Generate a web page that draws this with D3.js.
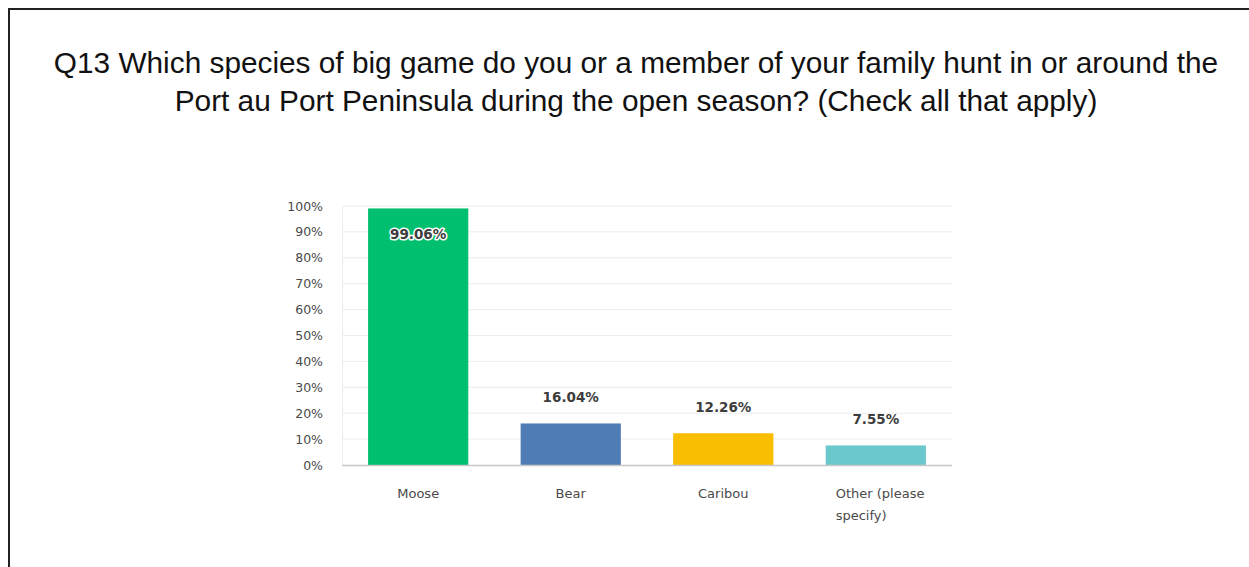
<!DOCTYPE html>
<html>
<head>
<meta charset="utf-8">
<script src="https://cdn.jsdelivr.net/npm/d3@7"></script>
<style>
  html, body { margin: 0; padding: 0; background: #fff; }
  svg { display: block; }
</style>
</head>
<body>
<svg id="chart" width="1249" height="567"></svg>
<script>
// Survey responses (percent of respondents)
const categories = ["Moose", "Bear", "Caribou", "Other (please specify)"];
const categoryLines = [["Moose"], ["Bear"], ["Caribou"], ["Other (please", "specify)"]];
const values = [99.06, 16.04, 12.26, 7.55];
const colors = ["#00bf6f", "#507cb6", "#f9be00", "#6bc8cd"];
const tickValues = [0, 10, 20, 30, 40, 50, 60, 70, 80, 90, 100];
const titleLines = [
  "Q13 Which species of big game do you or a member of your family hunt in or around the",
  "Port au Port Peninsula during the open season? (Check all that apply)"
];

const svg = d3.select("#chart");

// Frame lines (top and left)
svg.append("line").attr("x1", 8).attr("x2", 1249).attr("y1", 9).attr("y2", 9)
  .attr("stroke", "#222").attr("stroke-width", 2);
svg.append("line").attr("x1", 9).attr("x2", 9).attr("y1", 8).attr("y2", 567)
  .attr("stroke", "#222").attr("stroke-width", 2);

// Title
svg.append("g").selectAll("text").data(titleLines).join("text")
  .attr("x", 636).attr("y", (d, i) => 73 + i * 38)
  .attr("text-anchor", "middle")
  .attr("font-family", "'Liberation Sans', Arial, sans-serif")
  .attr("font-size", 29.8)
  .attr("fill", "#111")
  .text(d => d);

const plot = { left: 342, right: 952, top: 206, bottom: 465 };

const x = d3.scaleBand().domain(categories)
  .range([plot.left, plot.right]).paddingInner(0.343).paddingOuter(0.171);
const y = d3.scaleLinear().domain([0, 100]).range([plot.bottom, plot.top]);

const font = "'DejaVu Sans', Verdana, sans-serif";

// Gridlines
svg.append("g").selectAll("line").data(tickValues.filter(t => t > 0)).join("line")
  .attr("x1", plot.left).attr("x2", plot.right)
  .attr("y1", d => y(d)).attr("y2", d => y(d))
  .attr("stroke", "#ececec").attr("stroke-width", 1);

// Left edge of plot
svg.append("line").attr("x1", plot.left + 0.5).attr("x2", plot.left + 0.5)
  .attr("y1", plot.top).attr("y2", plot.bottom)
  .attr("stroke", "#ececec");

// Y axis labels
const yAxis = d3.axisLeft(y).tickValues(tickValues).tickFormat(d => d + "%").tickSize(0).tickPadding(19);
const yg = svg.append("g").attr("transform", `translate(${plot.left},0)`).call(yAxis);
yg.select(".domain").remove();
yg.selectAll("text").attr("font-family", font).attr("font-size", 12.5).attr("fill", "#4a4a4a");

// Bars
svg.append("g").selectAll("rect").data(values).join("rect")
  .attr("x", (d, i) => x(categories[i]))
  .attr("width", x.bandwidth())
  .attr("y", d => y(d))
  .attr("height", d => y(0) - y(d))
  .attr("fill", (d, i) => colors[i]);

// Baseline
svg.append("line").attr("x1", plot.left).attr("x2", plot.right)
  .attr("y1", plot.bottom + 0.5).attr("y2", plot.bottom + 0.5)
  .attr("stroke", "#c8c8c8").attr("stroke-width", 1.5);

// Value labels: inside a bar that reaches the top, above the others
svg.append("g").selectAll("text").data(values).join("text")
  .attr("x", (d, i) => x(categories[i]) + x.bandwidth() / 2)
  .attr("y", d => d > 90 ? y(d) + 31 : y(d) - 21)
  .attr("text-anchor", "middle")
  .attr("font-family", font)
  .attr("font-size", 13.5)
  .attr("font-weight", "bold")
  .attr("fill", "#3d3d3d")
  .attr("stroke", d => d > 90 ? "#fff" : "none")
  .attr("stroke-width", 3)
  .attr("stroke-linejoin", "round")
  .attr("paint-order", "stroke")
  .text(d => d.toFixed(2) + "%");

// Category labels
const cg = svg.append("g").selectAll("text").data(categories).join("text")
  .attr("font-family", font)
  .attr("font-size", 13)
  .attr("fill", "#4a4a4a")
  .attr("x", (d, i) => categoryLines[i].length > 1 ? x(d) + 10 : x(d) + x.bandwidth() / 2)
  .attr("text-anchor", (d, i) => categoryLines[i].length > 1 ? "start" : "middle");
cg.each(function(d, i) {
  d3.select(this).selectAll("tspan").data(categoryLines[i]).join("tspan")
    .attr("x", d3.select(this).attr("x"))
    .attr("y", (t, j) => 498 + j * 22)
    .text(t => t);
});
</script>
</body>
</html>
